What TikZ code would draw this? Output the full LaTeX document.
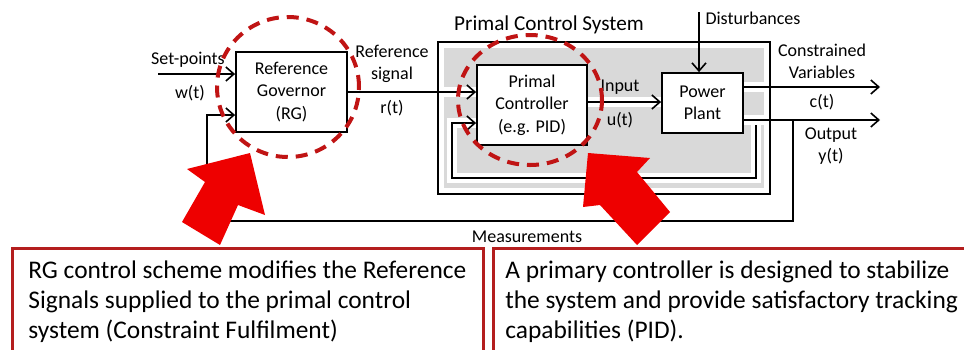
\documentclass[tikz,border=0pt]{standalone}
\usepackage{fontspec}
\setmainfont{Carlito}
\usetikzlibrary{arrows.meta, positioning, calc, backgrounds}
\definecolor{sysgray}{RGB}{217,217,217}
\definecolor{focusred}{RGB}{192,20,20}
\definecolor{pointred}{RGB}{238,0,0}
\definecolor{noteborder}{RGB}{180,30,30}

\begin{document}
\begin{tikzpicture}[x=0.5pt, y=-0.5pt,
  blk/.style={draw, line width=0.9pt, fill=white, align=center, inner sep=0pt, font=\fontsize{9}{11.25}\selectfont},
  lbl/.style={align=center, inner sep=0pt, font=\fontsize{9}{11}\selectfont},
  sig/.style={line width=0.8pt, -{Straight Barb[length=4pt,width=7pt]}},
  halo/.style={preaction={draw=white, line width=5pt, -}},
  focus/.style={draw=focusred, line width=2pt, dash pattern=on 6pt off 4pt},
  note/.style={draw=noteborder, line width=1.5pt, fill=white},
  notetext/.style={align=left, inner sep=0pt, anchor=north west, font=\fontsize{12.7}{15}\selectfont}]

  \useasboundingbox (0,0) rectangle (964,349);
  \clip (0,0) rectangle (964,349);

  % blocks
  \node[blk, minimum width=55.5pt, minimum height=40pt] (rg) at (291.5,92) {Reference\\Governor\\(RG)};
  \node[blk, minimum width=55pt, minimum height=40pt] (pc) at (532,105) {Primal\\Controller\\(e.g. PID)};
  \node[blk, minimum width=40.5pt, minimum height=30pt] (pp) at (702.5,103) {Power\\Plant};

  % free ends
  \coordinate (sp) at (158,74);
  \coordinate (dist) at (699,12);
  \coordinate (cout) at (880,87);
  \coordinate (yout) at (880,120);
  \coordinate (fbin) at (756,120);
  \coordinate (ibot) at (452,178);
  \coordinate (fbmeas) at (793,120);
  \coordinate (mbot) at (207,221);

  % primal control system and signals, behind the blocks
  \begin{scope}[on background layer]
    \fill[white] (0,0) rectangle (964,349);
    \fill[sysgray] (444,48) rectangle (764,188);
    \draw[sig] (sp) -- (sp -| rg.west);
    \draw[sig, halo] (rg.east) -- (rg.east -| pc.west);
    \draw[sig, halo] (fbin) |- (ibot) |- ($(pc.west)+(0,18)$);
    \draw[sig, halo] ($(pc.east)+(0,-3)$) -- ($(pp.west)+(0,-1)$);
    \draw[sig, halo] (cout -| pp.east) -- (cout);
    \draw[sig, halo] (yout -| pp.east) -- (yout);
    \draw[sig] (dist) -- (dist |- pp.north);
    \draw[sig] (fbmeas) |- (mbot) |- ($(rg.west)+(0,23)$);
  \end{scope}
  \draw[line width=0.8pt] (438,42) rectangle (770,194);

  % labels
  \node[inner sep=0pt, font=\fontsize{10.6}{12}\selectfont] (systitle) at (549,25) {Primal Control System};
  \node[lbl] (setpt) at (188,60) {Set-points};
  \node[lbl] (wt) at (190,93) {w(t)};
  \node[lbl] (refsig) at (392,64) {Reference\\signal};
  \node[lbl] (rt) at (392,108) {r(t)};
  \node[lbl] (inp) at (620,87) {Input};
  \node[lbl] (ut) at (620,120) {u(t)};
  \node[lbl] (distlbl) at (753,18) {Disturbances};
  \node[lbl] (convar) at (822,61) {Constrained\\Variables};
  \node[lbl] (ct) at (822,102) {c(t)};
  \node[lbl] (outp) at (831,146) {Output\\y(t)};
  \node[lbl] (meas) at (527,237) {Measurements};

  % highlighted parts
  \draw[focus] (288,87) ellipse [x radius=35.5pt, y radius=35pt];
  \draw[focus] (530,100) ellipse [x radius=36pt, y radius=32.5pt];

  % pointing arrows
  \fill[pointred] (250,153) -- (187,169) -- (205,182) -- (182,222) -- (220,245) -- (238,205) -- (265,215) -- cycle;
  \fill[pointred] (588,153) -- (650,158) -- (637,172) -- (670,212) -- (637,245) -- (600,205) -- (583,207) -- cycle;

  % notes
  \draw[note] (12,248) rectangle (483,370);
  \draw[note] (493,248) rectangle (980,370);
  \node[notetext] (rgnote) at (28,260) {RG control scheme modifies the Reference\\Signals supplied to the primal control\\system (Constraint Fulfilment)};
  \node[notetext] (pcnote) at (505,260) {A primary controller is designed to stabilize\\the system and provide satisfactory tracking\\capabilities (PID).};
\end{tikzpicture}
\end{document}
